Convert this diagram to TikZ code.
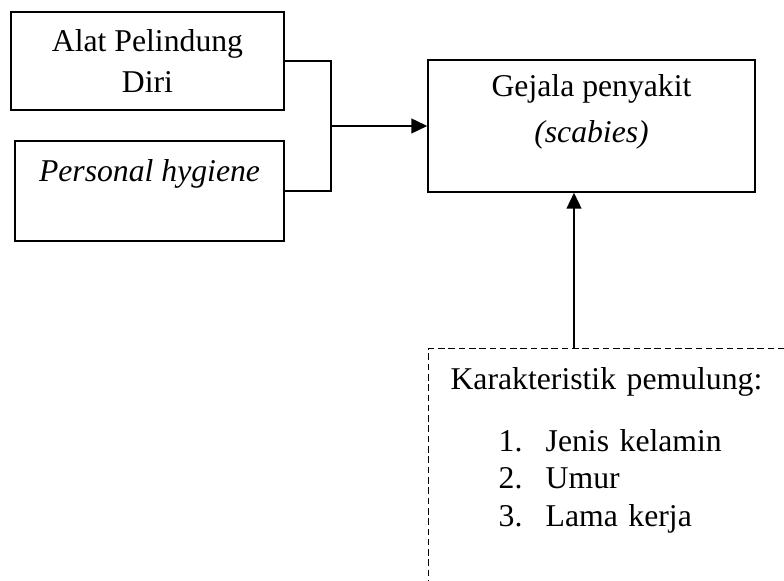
\documentclass[tikz,border=0pt]{standalone}
\usepackage{fontspec}
\setmainfont{Liberation Serif}
\usepackage{tikz}
\usetikzlibrary{arrows.meta}

\begin{document}
\begin{tikzpicture}[x=0.3785pt, y=-0.3785pt,
  box/.style={draw, line width=0.5pt, align=center, inner sep=0pt, font=\fontsize{12}{15.5}\selectfont},
  dashbox/.style={draw, line width=0.5pt, dash pattern=on 2.5pt off 1.4pt},
  link/.style={line width=0.5pt},
  arrow/.style={line width=0.85pt, -{Triangle[length=6pt,width=5.5pt]}}]

  % Fix the frame
  \clip (0,0) rectangle (784,581);

  % Draw the boxes
  \node[box, minimum width=103.3pt, minimum height=37.1pt] (apd) at (147.5,61) {Alat Pelindung\\Diri};
  \node[box, minimum width=101.8pt, minimum height=37.85pt] (ph) at (149.5,191) {\textit{Personal hygiene}\\~};
  \node[box, minimum width=123.8pt, minimum height=50pt] (gejala) at (591.5,126) {Gejala penyakit\\[2pt]\textit{(scabies)}\\[-2pt]~};

  % Dashed box, cut off at the page edge
  \node[dashbox, anchor=north west, text width=130pt, align=left, inner xsep=8.3pt, inner ysep=7pt,
        text depth=100pt, font=\fontsize{12}{14.2}\selectfont] (karakter) at (428,348)
    {Karakteristik pemulung:\\[9.3pt]
     \hspace*{18.2pt}\makebox[17.8pt][l]{1.}Jenis kelamin\\
     \hspace*{18.2pt}\makebox[17.8pt][l]{2.}Umur\\
     \hspace*{18.2pt}\makebox[17.8pt][l]{3.}Lama kerja};

  % Connectors
  \coordinate (join) at (331,126);
  \coordinate (kfoot) at (574,0);
  \draw[link] (apd.east) -| (join) |- (ph.east);
  \draw[arrow] (join) -- (join -| gejala.west);
  \draw[arrow] (kfoot |- karakter.north) -- (kfoot |- gejala.south);

\end{tikzpicture}
\end{document}
